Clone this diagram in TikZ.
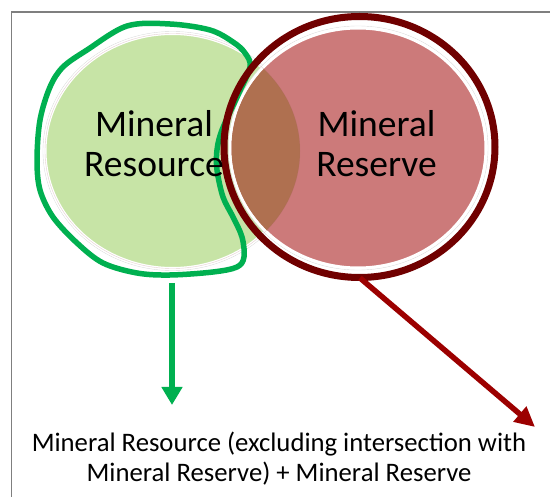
\documentclass[tikz,border=0pt]{standalone}
\usepackage{fontspec}
\setmainfont{Carlito}
\usetikzlibrary{arrows.meta}

\definecolor{resfill}{HTML}{C7E4A6}
\definecolor{rsvfill}{HTML}{CC7A7A}
\definecolor{overlapfill}{HTML}{AF7050}
\definecolor{rsvring}{HTML}{700000}
\definecolor{rsvarrow}{HTML}{9C0000}
\definecolor{resline}{HTML}{00B050}
\definecolor{frameline}{HTML}{7F7F7F}

\tikzset{
  frame/.style={draw=frameline, line width=1.6pt},
  setfill/.style={draw=white, line width=3pt},
  sethalo/.style={draw=black!15, line width=0.4pt},
  freehand/.style={draw=resline, line width=5.5pt, line join=round},
  ring/.style={draw=rsvring, line width=7pt},
  bigtext/.style={font=\fontsize{37.5}{40}\selectfont, align=center, inner sep=0pt},
  captiontext/.style={font=\fontsize{26.7}{30}\selectfont, align=center, inner sep=0pt},
  resarrow/.style={draw=resline, line width=6pt, -{Triangle[width=20pt,length=18pt]}},
  rsvarrow/.style={draw=rsvarrow, line width=5.5pt, -{Triangle[width=19pt,length=20pt]}},
}

\begin{document}
\begin{tikzpicture}[x=1pt, y=-1pt]
\useasboundingbox (0,0) rectangle (550,497);

% page frame, open to the right and bottom
\draw[frame] (11.5,505) -- (11.5,12) -- (560,12);

% the two sets
\coordinate (rescentre) at (172.5,151);
\coordinate (rsvcentre) at (358,148);

\draw[sethalo] (rescentre) ellipse [x radius=129.5, y radius=119.5];
\path[setfill, fill=resfill] (rescentre) ellipse [x radius=127.5, y radius=117.5];

\draw[sethalo] (rsvcentre) ellipse [x radius=130, y radius=122];
\path[setfill, fill=rsvfill] (rsvcentre) ellipse [x radius=128, y radius=120];

% intersection of resource and reserve
\begin{scope}
  \clip (rescentre) ellipse [x radius=127.5, y radius=117.5];
  \fill[overlapfill] (rsvcentre) ellipse [x radius=126.5, y radius=118.5];
\end{scope}
\draw[rsvfill!85!black, line width=0.4pt, opacity=0.3]
  (rescentre) ellipse [x radius=127.5, y radius=117.5];

% hand-drawn outline around the resource set
\draw[freehand] plot[smooth cycle, tension=0.55] coordinates {
  (127,26) (170,24) (210,30) (233,42) (245,53) (250,67)
  (238,95) (222,130) (217,150) (217,170) (223,197) (233,217)
  (242,237) (244,257) (237,267) (213,272) (170,275) (137,273)
  (103,263) (77,243) (53,217) (40,190) (37,160) (40,120)
  (50,87) (63,67) (87,50)
};

% outline ring of the reserve set
\coordinate (ringcentre) at (359.5,147);
\draw[ring] (ringcentre) ellipse [x radius=135.5, y radius=130.5];

% labels (base anchor sits on the last line)
\node[bigtext, anchor=base] (restext) at (154,177) {Mineral\\Resource};
\node[bigtext, anchor=base] (rsvtext) at (376.5,177) {Mineral\\Reserve};

% arrows to the combined statement
\coordinate (restail) at (172,283);
\coordinate (reshead) at (172,405);
\coordinate (rsvtail) at (360,278);
\coordinate (rsvhead) at (535,427);
\draw[resarrow] (restail) -- (reshead);
\draw[rsvarrow] (rsvtail) -- (rsvhead);

\node[captiontext, anchor=base] (sumtext) at (279,482)
  {Mineral Resource (excluding intersection with\\Mineral Reserve) + Mineral Reserve};
\end{tikzpicture}
\end{document}
